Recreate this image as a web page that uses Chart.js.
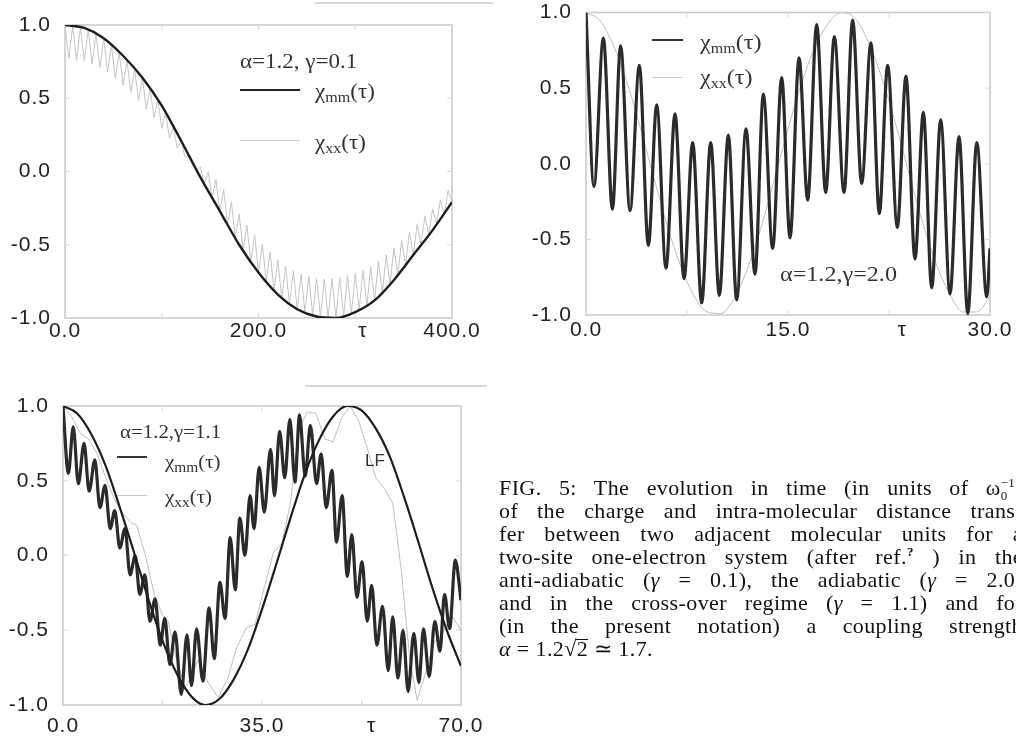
<!DOCTYPE html>
<html>
<head>
<meta charset="utf-8">
<script src="https://cdn.jsdelivr.net/npm/chart.js@4.4.0/dist/chart.umd.min.js"></script>
<style>
html, body { margin: 0; padding: 0; background: #fff; width: 1016px; height: 741px; overflow: hidden; }
canvas { position: absolute; }
.lbl { position: absolute; font-family: "Liberation Serif", serif; font-size: 20px; line-height: 20px; color: #333; white-space: nowrap; transform-origin: left center; }
.lbl sub { font-size: 14px; vertical-align: -4px; line-height: 0; }
.p1 { transform: scaleX(1.15); }
.p2 { font-size: 21px; line-height: 21px; transform: scaleX(1.15); }
.p3 { font-size: 19px; line-height: 19px; transform: scaleX(1.1); }
.sans { font-family: "Liberation Sans", Arial, sans-serif; font-size: 17px; }
.swatch { position: absolute; height: 0; }
.rule { position: absolute; height: 0; border-top: 2px solid #d6d6d6; }
#caption { position: absolute; left: 499px; top: 476px; width: 524px; font-family: "Liberation Serif", serif; font-size: 22px; line-height: 23px; letter-spacing: 0.4px; color: #111; }
#caption div { height: 23px; text-align: justify; text-align-last: justify; }
#caption div.last { text-align-last: left; }
#caption sub, #caption sup { font-size: 13px; line-height: 0; }
.vinc { position: relative; }
.vinc::before { content: ""; position: absolute; left: -1px; right: 0; top: 3px; border-top: 1px solid #111; }
</style>
</head>
<body>

<canvas id="c1" width="500" height="345" style="left:0;top:0"></canvas>
<canvas id="c2" width="511" height="357" style="left:505px;top:-12px"></canvas>
<canvas id="c3" width="500" height="361" style="left:0;top:380px"></canvas>

<!-- stray rules from the scanned page -->
<div class="rule" style="left:315px;top:2px;width:178px"></div>
<div class="rule" style="left:305px;top:385px;width:182px"></div>

<!-- panel 1 labels -->
<div class="lbl p1" style="left:240px;top:51px">α=1.2, γ=0.1</div>
<div class="swatch" style="left:240px;top:89px;width:60px;border-top:2.5px solid #222"></div>
<div class="lbl p1" style="left:315px;top:81px">χ<sub>mm</sub>(τ)</div>
<div class="swatch" style="left:240px;top:140px;width:60px;border-top:1px solid #c8c8c8"></div>
<div class="lbl p1" style="left:315px;top:132px">χ<sub>xx</sub>(τ)</div>

<!-- panel 2 labels -->
<div class="swatch" style="left:652px;top:39px;width:31px;border-top:2.5px solid #333"></div>
<div class="lbl p2" style="left:700px;top:32px">χ<sub>mm</sub>(τ)</div>
<div class="swatch" style="left:652px;top:77px;width:31px;border-top:1px solid #c8c8c8"></div>
<div class="lbl p2" style="left:700px;top:67px">χ<sub>xx</sub>(τ)</div>
<div class="lbl p2" style="left:780px;top:264px">α=1.2,γ=2.0</div>

<!-- panel 3 labels -->
<div class="lbl p3" style="left:120px;top:422px">α=1.2,γ=1.1</div>
<div class="swatch" style="left:117px;top:456px;width:30px;border-top:2.5px solid #333"></div>
<div class="lbl p3" style="left:165px;top:452px">χ<sub>mm</sub>(τ)</div>
<div class="swatch" style="left:117px;top:495px;width:30px;border-top:1px solid #c8c8c8"></div>
<div class="lbl p3" style="left:165px;top:487px">χ<sub>xx</sub>(τ)</div>
<div class="lbl sans" style="left:365px;top:451px">LF</div>

<div id="caption">
  <div>FIG. 5: The evolution in time (in units of ω<sub>0</sub><sup style="margin-left:-7px">−1</sup>)</div>
  <div>of the charge and intra-molecular distance trans-</div>
  <div>fer between two adjacent molecular units for a</div>
  <div>two-site one-electron system (after ref.<sup><b>?</b></sup> ) in the</div>
  <div>anti-adiabatic (<i>γ</i> = 0.1), the adiabatic (<i>γ</i> = 2.0)</div>
  <div>and in the cross-over regime (<i>γ</i> = 1.1) and for</div>
  <div>(in the present notation) a coupling strength</div>
  <div class="last"><i>α</i> = 1.2√<span class="vinc">2</span> ≃ 1.7.</div>
</div>

<script>
// common y axis
const yTicks = [-1, -0.5, 0, 0.5, 1];
const yTickLabels = ['-1.0', '-0.5', '0.0', '0.5', '1.0'];

// panel 1: alpha=1.2, gamma=0.1, tau 0..400
const p1XTicks = [0, 200, 308, 400];
const p1XLabels = ['0.0', '200.0', 'τ', '400.0'];
const p1Tau = [0, 20, 40, 60, 80, 100, 120, 140, 160, 180, 200, 220, 240, 260, 280, 300, 320, 340, 360, 380, 400];
const p1Mm = [1.00, 0.98, 0.91, 0.79, 0.64, 0.45, 0.21, -0.04, -0.27, -0.50, -0.69, -0.84, -0.94, -0.99, -1.00, -0.96, -0.88, -0.74, -0.57, -0.40, -0.21];
// chi_xx oscillates fast: its upper/lower turning points
const p1XxStep = 8;
const p1XxPeaks = [1.00, 0.995, 0.985, 0.97, 0.94, 0.91, 0.865, 0.815, 0.76, 0.70,
  0.64, 0.565, 0.49, 0.40, 0.305, 0.21, 0.11, 0.01, -0.085, -0.18,
  -0.27, -0.36, -0.455, -0.54, -0.615, -0.69, -0.75, -0.81, -0.865, -0.905,
  -0.94, -0.96, -0.98, -0.995, -1.0, -1.0, -0.99, -0.97, -0.95, -0.92,
  -0.88, -0.83, -0.77, -0.71, -0.64, -0.57, -0.50, -0.43, -0.36, -0.29, -0.21];
const p1XxTroughs = [0.77, 0.76, 0.755, 0.735, 0.71, 0.68, 0.635, 0.59, 0.54, 0.485,
  0.425, 0.365, 0.295, 0.225, 0.16, 0.10, 0.06, 0.03, 0.0, -0.055,
  -0.125, -0.21, -0.29, -0.365, -0.435, -0.495, -0.55, -0.605, -0.645, -0.68,
  -0.70, -0.715, -0.73, -0.733, -0.73, -0.725, -0.71, -0.695, -0.675, -0.65,
  -0.615, -0.57, -0.52, -0.47, -0.415, -0.36, -0.305, -0.255, -0.195, -0.13];

// panel 2: alpha=1.2, gamma=2.0, tau 0..30
const p2XTicks = [0, 15, 23.5, 30];
const p2XLabels = ['0.0', '15.0', 'τ', '30.0'];
const p2MmTau = [0, 0.59, 1.29, 1.96, 2.57, 3.27, 3.96, 4.63, 5.25, 5.94,
  6.61, 7.28, 7.92, 8.59, 9.26, 9.90, 10.57, 11.19, 11.88, 12.55,
  13.17, 13.86, 14.53, 15.15, 15.82, 16.46, 17.13, 17.80, 18.44, 19.16,
  19.80, 20.47, 21.16, 21.78, 22.40, 23.12, 23.76, 24.43, 25.05, 25.67,
  26.34, 27.03, 27.70, 28.35, 29.02, 29.76, 30];
const p2Mm = [1.0, -0.15, 0.83, -0.30, 0.78, -0.31, 0.65, -0.54, 0.39, -0.69,
  0.33, -0.76, 0.14, -0.92, 0.14, -0.87, 0.19, -0.90, 0.23, -0.73,
  0.46, -0.56, 0.57, -0.49, 0.70, -0.24, 0.92, -0.19, 0.84, -0.19,
  0.95, -0.13, 0.80, -0.33, 0.65, -0.42, 0.58, -0.63, 0.34, -0.82,
  0.29, -0.86, 0.18, -0.99, 0.14, -0.88, -0.56];
const p2XxTau = [0, 1, 2, 3, 4, 5, 6, 7, 8, 9, 10, 11, 12, 13, 14, 15, 16, 17, 18, 19, 20, 21, 22, 23, 24, 25, 26, 27, 28, 29, 30];
const p2Xx = [1.00, 0.95, 0.79, 0.55, 0.25, -0.08, -0.40, -0.67, -0.87, -0.98,
  -0.99, -0.89, -0.69, -0.42, -0.10, 0.23, 0.53, 0.77, 0.93, 1.00,
  0.96, 0.80, 0.56, 0.26, -0.07, -0.39, -0.66, -0.86, -0.98, -0.98, -0.88];

// panel 3: alpha=1.2, gamma=1.1, tau 0..70
const p3XTicks = [0, 35, 54.3, 70];
const p3XLabels = ['0.0', '35.0', 'τ', '70.0'];
const p3MmTau = [0, 0.94, 1.8, 2.7, 3.7, 4.6, 5.6, 6.5, 7.4, 8.3,
  9.1, 10.0, 10.9, 11.8, 12.7, 13.5, 14.4, 15.3, 16.2, 17.1,
  17.9, 18.8, 19.7, 20.8, 21.8, 22.6, 23.5, 24.6, 25.7, 26.6,
  27.6, 28.5, 29.4, 30.3, 31.1, 32.0, 32.9, 33.6, 34.5, 35.4,
  36.5, 37.2, 38.1, 39.0, 39.9, 40.8, 41.6, 42.6, 43.5, 44.6,
  45.4, 46.3, 47.3, 48.1, 49.1, 50.0, 50.8, 51.7, 52.6, 53.5,
  54.3, 55.2, 56.2, 57.2, 58.0, 58.9, 59.8, 60.7, 61.7, 62.6,
  63.4, 64.4, 65.4, 66.3, 67.1, 68.0, 69.0, 70.0];
const p3Mm = [1.0, 0.55, 0.86, 0.48, 0.75, 0.43, 0.64, 0.32, 0.47, 0.18,
  0.30, 0.05, 0.18, -0.13, 0.0, -0.26, -0.13, -0.44, -0.29, -0.60,
  -0.42, -0.73, -0.51, -0.93, -0.53, -0.87, -0.49, -0.84, -0.35, -0.69,
  -0.18, -0.42, 0.12, -0.23, 0.25, 0.0, 0.40, 0.18, 0.59, 0.29,
  0.71, 0.40, 0.83, 0.52, 0.91, 0.49, 0.94, 0.53, 0.87, 0.48,
  0.68, 0.32, 0.57, 0.09, 0.40, -0.14, 0.14, -0.28, -0.04, -0.44,
  -0.20, -0.60, -0.34, -0.77, -0.41, -0.82, -0.50, -0.91, -0.52, -0.85,
  -0.49, -0.81, -0.44, -0.64, -0.26, -0.49, -0.03, -0.30];
const p3LfTau = [0, 2.5, 5, 7.5, 10, 12.5, 15, 17.5, 20, 22.5, 25, 27.5, 30, 32.5, 35,
  37.5, 40, 42.5, 45, 47.5, 50, 52.5, 55, 57.5, 60, 62.5, 65, 67.5, 70];
const p3Lf = [1.00, 0.95, 0.81, 0.60, 0.32, 0.02, -0.29, -0.57, -0.79, -0.94,
  -1.00, -0.96, -0.83, -0.63, -0.36, -0.06, 0.25, 0.54, 0.77, 0.93,
  1.00, 0.97, 0.85, 0.66, 0.39, 0.09, -0.22, -0.50, -0.74];
const p3XxTau = [0, 1.5, 3, 4.5, 6, 7.5, 9, 10.5, 12, 13,
  14.5, 16, 17.5, 18.5, 20, 21.5, 22.5, 23.7, 25.5, 27.3,
  29, 30.5, 32.3, 33.8, 35.5, 37, 38.5, 40, 41.5, 43,
  44.5, 46, 47.5, 49, 50.5, 52, 53.5, 55, 56.5, 58,
  59.5, 61, 62.3, 63.8, 65.3, 66.8, 68.3, 70];
const p3Xx = [1.0, 0.93, 0.82, 0.78, 0.68, 0.52, 0.38, 0.28, 0.22, 0.20,
  0.0, -0.25, -0.40, -0.44, -0.70, -0.88, -0.82, -0.70, -0.85, -0.95,
  -0.82, -0.62, -0.48, -0.46, -0.20, 0.02, 0.08, 0.35, 0.85, 0.96,
  0.95, 0.78, 0.76, 0.92, 1.0, 0.9, 0.72, 0.52, 0.45, 0.35,
  -0.1, -0.7, -0.97, -0.78, -0.58, -0.52, -0.40, -0.50];

function pairs(xs, ys) {
  return xs.map((x, i) => ({ x: x, y: ys[i] }));
}

// interleave the turning points of a fast oscillation
function zigzag(peaks, troughs, step) {
  const pts = [];
  for (let i = 0; i < peaks.length; i++) {
    pts.push({ x: i * step, y: peaks[i] });
    if (i < troughs.length) pts.push({ x: i * step + step / 2, y: troughs[i] });
  }
  return pts;
}

// light frame round the plot with small inward ticks
const framePlugin = {
  id: 'frame',
  beforeDraw(chart) {
    // the old plotting program spaced its digits widely
    chart.ctx.letterSpacing = '1px';
  },
  beforeDatasetsDraw(chart) {
    const a = chart.chartArea;
    const ctx = chart.ctx;
    const xs = chart.scales.x, ys = chart.scales.y;
    ctx.save();
    ctx.strokeStyle = '#c8c8c8';
    ctx.lineWidth = 1.5;
    ctx.strokeRect(a.left, a.top, a.right - a.left, a.bottom - a.top);
    ctx.lineWidth = 1;
    ctx.strokeStyle = '#d8d8d8';
    ctx.beginPath();
    for (const v of yTicks) {
      const py = ys.getPixelForValue(v);
      ctx.moveTo(a.left, py); ctx.lineTo(a.left + 5, py);
      ctx.moveTo(a.right, py); ctx.lineTo(a.right - 5, py);
    }
    for (const v of chart.options.plugins.frame.xMarks) {
      const px = xs.getPixelForValue(v);
      ctx.moveTo(px, a.bottom); ctx.lineTo(px, a.bottom - 5);
      ctx.moveTo(px, a.top); ctx.lineTo(px, a.top + 5);
    }
    ctx.stroke();
    ctx.restore();
  }
};

function makeChart(id, cfg) {
  const tickFont = { family: 'Liberation Sans', size: 21, lineHeight: 1 };
  return new Chart(document.getElementById(id), {
    type: 'line',
    data: { datasets: cfg.datasets },
    plugins: [framePlugin],
    options: {
      responsive: false,
      animation: false,
      events: [],
      layout: { padding: { top: cfg.padTop, right: cfg.padRight, left: 0, bottom: 0 } },
      elements: { point: { radius: 0 } },
      plugins: {
        legend: { display: false },
        tooltip: { enabled: false },
        frame: { xMarks: cfg.xMarks }
      },
      scales: {
        x: {
          type: 'linear',
          min: cfg.xMin,
          max: cfg.xMax,
          afterBuildTicks: s => { s.ticks = cfg.xTicks.map(v => ({ value: v })); },
          afterFit: s => { s.height = cfg.xAxisH; },
          grid: { display: false, drawTicks: false },
          border: { display: false },
          ticks: {
            autoSkip: false, maxRotation: 0, padding: cfg.xPad,
            color: '#222', font: tickFont,
            callback: (v, i) => cfg.xLabels[i]
          }
        },
        y: {
          type: 'linear',
          min: -1,
          max: 1,
          afterBuildTicks: s => { s.ticks = yTicks.map(v => ({ value: v })); },
          afterFit: s => { s.width = cfg.yAxisW; },
          grid: { display: false, drawTicks: false },
          border: { display: false },
          ticks: {
            autoSkip: false, padding: 14,
            color: '#222', font: tickFont,
            callback: (v, i) => yTickLabels[i]
          }
        }
      }
    }
  });
}

// panel 1
makeChart('c1', {
  padTop: 25, padRight: 48, yAxisW: 65, xAxisH: 27, xPad: 3,
  xMin: 0, xMax: 400, xTicks: p1XTicks, xLabels: p1XLabels, xMarks: [100, 200, 300],
  datasets: [
    { label: 'χmm(τ)', data: pairs(p1Tau, p1Mm), borderColor: '#1e1e1e', borderWidth: 2.4, cubicInterpolationMode: 'monotone' },
    { label: 'χxx(τ)', data: zigzag(p1XxPeaks, p1XxTroughs, p1XxStep), borderColor: '#c4c4c4', borderWidth: 1, tension: 0 }
  ]
});

// panel 2
makeChart('c2', {
  padTop: 21, padRight: 26, yAxisW: 81, xAxisH: 30, xPad: 5,
  xMin: 0, xMax: 30, xTicks: p2XTicks, xLabels: p2XLabels, xMarks: [7.5, 15, 22.5],
  datasets: [
    { label: 'χmm(τ)', data: pairs(p2MmTau, p2Mm), borderColor: '#2b2b2b', borderWidth: 3.2, cubicInterpolationMode: 'monotone' },
    { label: 'χxx(τ)', data: pairs(p2XxTau, p2Xx), borderColor: '#bdbdbd', borderWidth: 1, cubicInterpolationMode: 'monotone' }
  ]
});

// panel 3
makeChart('c3', {
  padTop: 26, padRight: 39, yAxisW: 63, xAxisH: 36, xPad: 11,
  xMin: 0, xMax: 70, xTicks: p3XTicks, xLabels: p3XLabels, xMarks: [17.5, 35, 52.5],
  datasets: [
    { label: 'LF', data: pairs(p3LfTau, p3Lf), borderColor: '#1e1e1e', borderWidth: 2.2, cubicInterpolationMode: 'monotone' },
    { label: 'χmm(τ)', data: pairs(p3MmTau, p3Mm), borderColor: '#2b2b2b', borderWidth: 3.2, cubicInterpolationMode: 'monotone' },
    { label: 'χxx(τ)', data: pairs(p3XxTau, p3Xx), borderColor: '#bdbdbd', borderWidth: 1, tension: 0 }
  ]
});
</script>
</body>
</html>
